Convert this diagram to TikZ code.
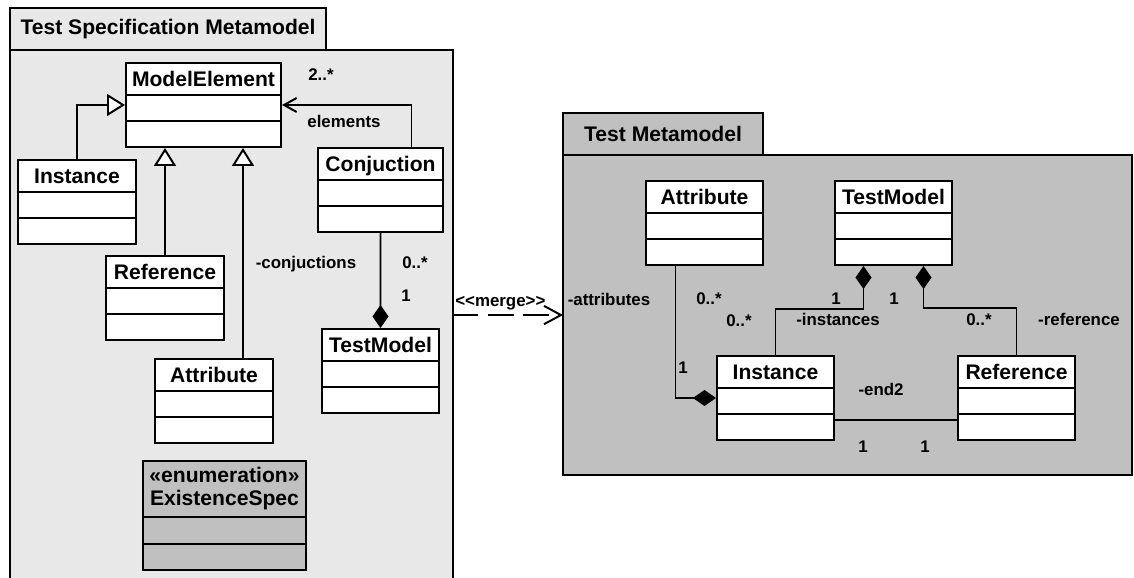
\documentclass[tikz,border=0pt]{standalone}
\usepackage{fontspec}
\setmainfont{Liberation Sans}
\usetikzlibrary{arrows.meta,shapes.multipart,calc}
\definecolor{pkglight}{HTML}{E8E8E8}
\definecolor{pkgdark}{HTML}{C0C0C0}
\begin{document}
\begin{tikzpicture}[x=0.025cm,y=-0.025cm,line width=1.4pt]
	\def\cn#1#2{\rule[-5.3pt]{0pt}{21.35pt}\makebox[#1]{#2}\nodepart{two}\rule{0pt}{17.1pt}\nodepart{three}\rule{0pt}{17.1pt}}
	\tikzset{cls/.style={rectangle split,rectangle split parts=3,draw,fill=white,anchor=north west,inner xsep=0pt,inner ysep=0pt,font=\fontsize{15}{16.4}\selectfont\bfseries},
		pkg/.style={draw,anchor=north west,inner sep=0pt,outer sep=0pt,font=\fontsize{15}{18}\selectfont\bfseries},
		lbl/.style={inner sep=0pt,font=\fontsize{12}{14}\selectfont\bfseries},
		gen/.style={-{Triangle[length=12.8pt,width=15.6pt,fill=white]}},
		comp/.style={{Diamond[length=16.4pt,width=11.4pt]}-},
		nav/.style={-{Straight Barb[length=9pt,width=10pt]}},
		dep/.style={dash pattern=on 18pt off 7pt,-{Straight Barb[length=12pt,width=13pt]}}}
	\useasboundingbox(0,0)rectangle(1134,578);
	\path(10,50)node[pkg,fill=pkglight,minimum width=11.075cm,minimum height=13.5cm](P1){}
		(10,8)node[pkg,fill=pkglight,minimum width=7.9cm,minimum height=1.05cm](P1tab){Test Specification Metamodel};
	\path(563,155)node[pkg,fill=pkgdark,minimum width=14.225cm,minimum height=8cm](P2){}
		(563,113)node[pkg,fill=pkgdark,minimum width=5cm,minimum height=1.05cm](P2tab){Test Metamodel};
	\path(125,62)node[cls](ME){\cn{3.875cm}{ModelElement}}
		(17,159)node[cls](Inst){\cn{2.95cm}{Instance}}
		(105,255)node[cls](Ref){\cn{2.95cm}{Reference}}
		(154,358)node[cls](Attr){\cn{2.95cm}{Attribute}}
		(317,147)node[cls](Conj){\cn{3.125cm}{Conjuction}}
		(321,328)node[cls](TM){\cn{2.925cm}{TestModel}}
		(142,460)node[cls,fill=pkgdark](Enum){\parbox[c][38.4pt][c]{4.075cm}{\centering«enumeration»\\ExistenceSpec}\nodepart{two}\rule{0pt}{17.8pt}\nodepart{three}\rule{0pt}{17.1pt}};
	\path(645,180)node[cls](A2){\cn{2.925cm}{Attribute}}
		(834,180)node[cls](T2){\cn{2.925cm}{TestModel}}
		(716,355)node[cls](I2){\cn{2.925cm}{Instance}}
		(957,355)node[cls](R2){\cn{2.925cm}{Reference}};
	\draw[gen](Inst.north)|-(ME.west);
	\draw[gen](Ref.north)--(Ref.north|-ME.south);
	\draw[gen]($(Attr.north)+(29,0)$)coordinate(a1)--(a1|-ME.south);
	\draw[nav]($(Conj.north)+(31,0)$)|-(ME.east);
	\draw[comp](TM.north)--(Conj.south);
	\draw[comp](I2.west)-|($(A2.south)+(-29,0)$);
	\draw[comp]($(T2.south)+(-30,0)$)--++(0,43)-|(I2.north);
	\draw[comp]($(T2.south)+(30,0)$)--++(0,42)-|(R2.north);
	\draw($(I2.east)+(0,22)$)coordinate(e1)--(R2.west|-e1);
	\draw[dep](P1.east|-P2.west)--node[lbl,pos=0.43,above=3pt]{<\kern0pt<merge>\kern0pt>}(P2.west);
	\foreach \a/\b/\t in {
		321/75/2..*,344/122/elements,306/262/-conjuctions,415/262/0..*,406/295/1,
		609/299/-attributes,709/298/0..*,739/320/0..*,683/367/1,
		836/298/1,838/319/-instances,894/298/1,979/319/0..*,1079/319/-reference,
		881/389/-end2,863/446/1,925/446/1}
	\path(\a,\b)++(0,6)node[lbl,anchor=base]{\t};
\end{tikzpicture}
\end{document}
